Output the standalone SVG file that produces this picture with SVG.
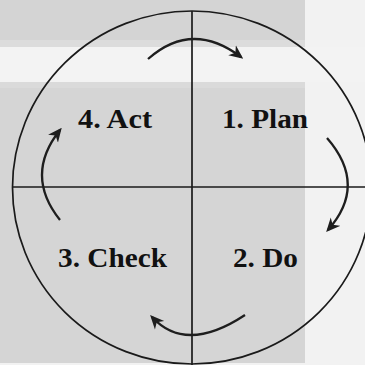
<svg xmlns="http://www.w3.org/2000/svg" width="365" height="365" viewBox="0 0 365 365">
<style>
.lbl{font-family:"Liberation Serif","Times New Roman",serif;font-weight:bold;font-size:28px;fill:#111}
.ln{stroke:#1a1a1a;stroke-width:1.7;fill:none}
.arr{stroke:#1e1e1e;stroke-width:2.3;fill:none;marker-end:url(#ah)}
</style>
<defs>
<marker id="ah" viewBox="0 0 10 10" refX="8" refY="5" markerWidth="14" markerHeight="14" markerUnits="userSpaceOnUse" orient="auto">
<path d="M0,0.5 L10,5 L0,9.5 L3,5 z" fill="#1e1e1e"/>
</marker>
</defs>
<g id="background">
<rect x="0" y="0" width="365" height="365" fill="#f2f2f2"/>
<rect x="0" y="0" width="305" height="40" fill="#d4d4d4"/>
<rect x="0" y="40" width="305" height="7" fill="#dcdcdc"/>
<rect x="0" y="47" width="365" height="35" fill="#f3f3f3"/>
<rect x="0" y="82" width="305" height="6" fill="#dadada"/>
<rect x="0" y="88" width="305" height="275" fill="#d5d5d5"/>
</g>
<g id="frame">
<ellipse class="ln" cx="192" cy="187.5" rx="179.5" ry="176.5"/>
<line class="ln" x1="12" y1="187" x2="365" y2="187"/>
<line class="ln" x1="192" y1="11" x2="192" y2="365"/>
</g>
<g id="connectors">
<path class="arr" d="M148,59 Q192,20 241,57"/>
<path class="arr" d="M327,138 Q368,185 328,230"/>
<path class="arr" d="M245,315 Q186,354 152,317"/>
<path class="arr" d="M60,220 Q24,175 60,130"/>
</g>
<g id="node-act"><text class="lbl" x="78" y="128" textLength="74" lengthAdjust="spacingAndGlyphs">4. Act</text></g>
<g id="node-plan"><text class="lbl" x="222" y="128" textLength="86" lengthAdjust="spacingAndGlyphs">1. Plan</text></g>
<g id="node-check"><text class="lbl" x="58" y="267" textLength="109" lengthAdjust="spacingAndGlyphs">3. Check</text></g>
<g id="node-do"><text class="lbl" x="233" y="267" textLength="65" lengthAdjust="spacingAndGlyphs">2. Do</text></g>
</svg>
